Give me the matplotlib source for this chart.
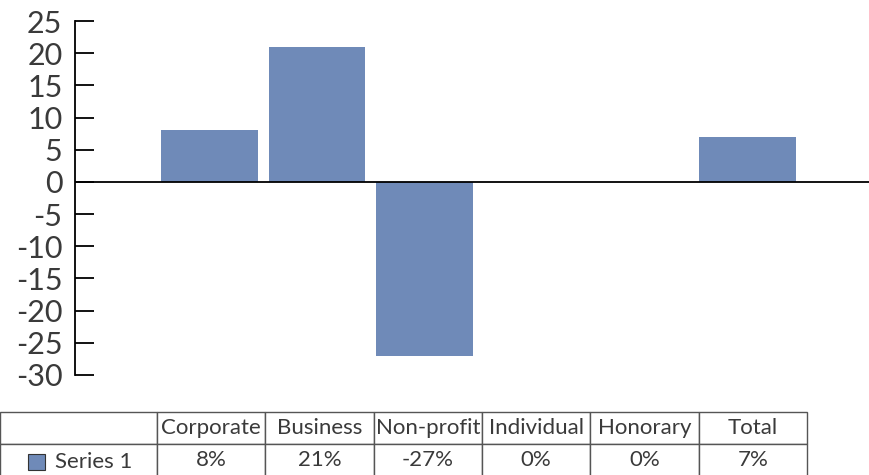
import numpy as np
import matplotlib.pyplot as plt
from matplotlib.patches import Rectangle

plt.rcParams['font.family'] = ['Lato', 'DejaVu Sans']
plt.rcParams['axes.unicode_minus'] = False

categories = ['Corporate', 'Business', 'Non-profit', 'Individual', 'Honorary', 'Total']
values = [8, 21, -27, 0, 0, 7]
labels = ['8%', '21%', '-27%', '0%', '0%', '7%']
series = 'Series 1'
yticks = np.arange(-30, 30, 5)

bar_col = '#6f8ab8'
txt_col = '#3a3a3a'

W, H = 870, 475
fig = plt.figure(figsize=(8.7, 4.75), dpi=100)

# main chart
ax = fig.add_axes([75 / W, 1 - 375 / H, (W - 75) / W, 354 / H])
x = np.arange(len(categories))
ax.bar(x, values, width=0.9, color=bar_col, zorder=2)
ax.axhline(0, color='black', lw=1.3, zorder=3)
ax.set_xlim(-1.25, 6.14)
ax.set_ylim(-30, 25)
ax.set_yticks(yticks)
ax.set_yticklabels([str(v) for v in yticks])
ax.set_xticks([])
for s in ['top', 'right', 'bottom']:
    ax.spines[s].set_visible(False)
ax.spines['left'].set_linewidth(1.3)
ax.tick_params(axis='y', direction='in', length=14, width=1.3, pad=9,
               labelsize=22, labelcolor=txt_col)

# data table below
tax = fig.add_axes([0, -1 / H, 807 / W, 64 / H])
tax.axis('off')
cells = [[''] + categories, [''] + labels]
widths = [157] + [108.3] * 6
tbl = tax.table(cellText=cells, colWidths=[w / sum(widths) for w in widths],
                cellLoc='center', bbox=[0, 0, 1, 1])
tbl.auto_set_font_size(False)
for (r, c), cell in tbl.get_celld().items():
    cell.set_edgecolor('#555555')
    cell.set_linewidth(1.0)
    cell.get_text().set_fontsize(16)
    cell.get_text().set_color(txt_col)

# legend key in the first row label cell
tax.add_patch(Rectangle((28 / 807, 0.1), 17 / 807, 16 / 64, facecolor=bar_col,
                        edgecolor='#333333', lw=0.8, transform=tax.transAxes, zorder=5))
tax.text(55 / 807, 0.22, series, transform=tax.transAxes, fontsize=16,
         color=txt_col, va='center', ha='left', zorder=5)

fig.savefig('out.png', dpi=100)
